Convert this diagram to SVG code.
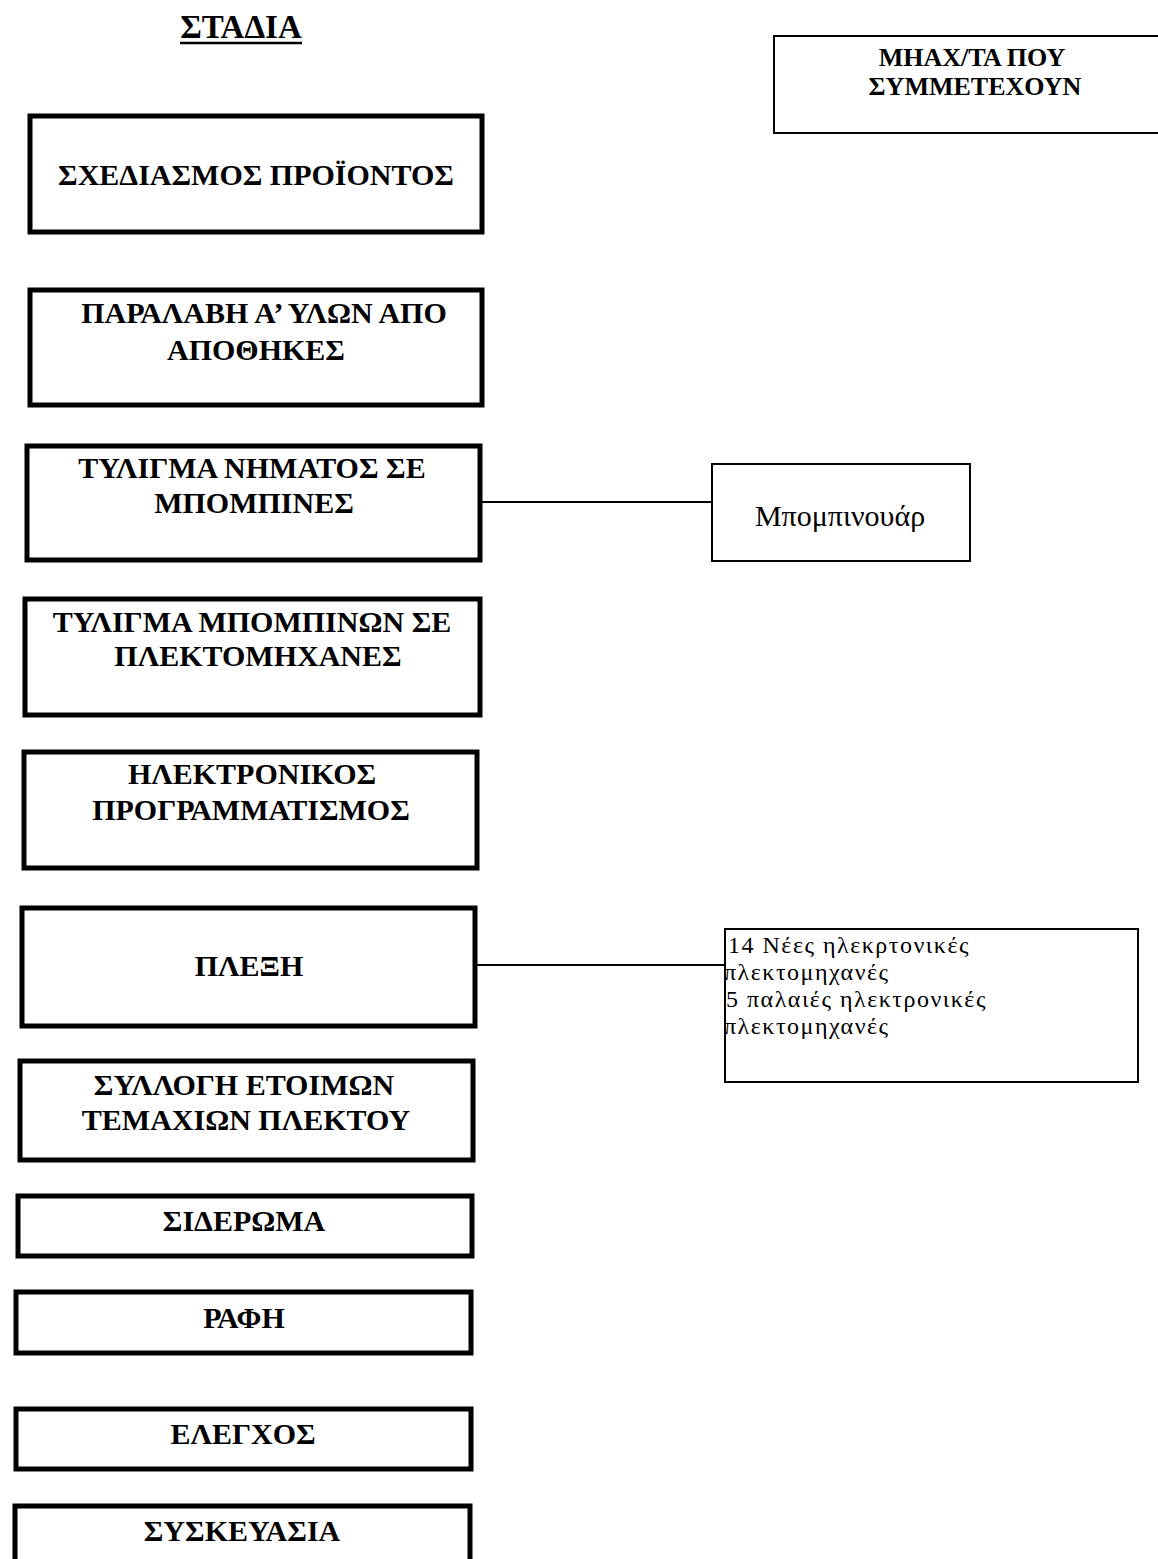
<svg xmlns="http://www.w3.org/2000/svg" width="1158" height="1559" viewBox="0 0 1158 1559">
<style>
.stage{fill:#fff;stroke:#000;stroke-width:5}
.mach{fill:#fff;stroke:#000;stroke-width:2}
.t{font-family:"Liberation Serif","Times New Roman",serif;font-weight:bold;font-size:30px;fill:#000;text-anchor:middle}
.tt{font-family:"Liberation Serif","Times New Roman",serif;font-weight:bold;font-size:33px;fill:#000;text-anchor:middle}
.th{font-family:"Liberation Serif","Times New Roman",serif;font-weight:bold;font-size:26px;fill:#000;text-anchor:middle}
.r{font-family:"Liberation Serif","Times New Roman",serif;font-size:24px;letter-spacing:1.5px;fill:#000}
.rb{font-family:"Liberation Serif","Times New Roman",serif;font-size:30px;fill:#000;text-anchor:middle}
.conn{stroke:#000;stroke-width:2;fill:none}
</style>
<rect width="1158" height="1559" fill="#fff"/>
<g id="title">
<text class="tt" x="241" y="38">ΣΤΑΔΙΑ</text>
<line x1="180" y1="43" x2="302" y2="43" stroke="#000" stroke-width="2.5"/>
</g>
<g id="machines-header">
<rect class="mach" x="774" y="36" width="390" height="97"/>
<text class="th" x="972" y="66">ΜΗΑΧ/ΤΑ ΠΟΥ</text>
<text class="th" x="975" y="95">ΣΥΜΜΕΤΕΧΟΥΝ</text>
</g>
<g id="connectors">
<line class="conn" x1="480" y1="502" x2="712" y2="502"/>
<line class="conn" x1="475" y1="965" x2="725" y2="965"/>
</g>
<g id="n1">
<rect class="stage" x="30" y="116" width="452" height="116"/>
<text class="t" x="256" y="185">ΣΧΕΔΙΑΣΜΟΣ ΠΡΟΪΟΝΤΟΣ</text>
</g>
<g id="n2">
<rect class="stage" x="30" y="290" width="452" height="115"/>
<text class="t" x="264" y="323">ΠΑΡΑΛΑΒΗ Α’ ΥΛΩΝ ΑΠΟ</text>
<text class="t" x="256" y="360">ΑΠΟΘΗΚΕΣ</text>
</g>
<g id="n3">
<rect class="stage" x="27" y="446" width="453" height="114"/>
<text class="t" x="252" y="478">ΤΥΛΙΓΜΑ ΝΗΜΑΤΟΣ ΣΕ</text>
<text class="t" x="254" y="513">ΜΠΟΜΠΙΝΕΣ</text>
</g>
<g id="n4">
<rect class="stage" x="25" y="599" width="455" height="116"/>
<text class="t" x="252" y="632">ΤΥΛΙΓΜΑ ΜΠΟΜΠΙΝΩΝ ΣΕ</text>
<text class="t" x="258" y="666">ΠΛΕΚΤΟΜΗΧΑΝΕΣ</text>
</g>
<g id="n5">
<rect class="stage" x="24" y="752" width="453" height="116"/>
<text class="t" x="252" y="784">ΗΛΕΚΤΡΟΝΙΚΟΣ</text>
<text class="t" x="251" y="820">ΠΡΟΓΡΑΜΜΑΤΙΣΜΟΣ</text>
</g>
<g id="n6">
<rect class="stage" x="22" y="908" width="453" height="118"/>
<text class="t" x="249" y="976">ΠΛΕΞΗ</text>
</g>
<g id="n7">
<rect class="stage" x="20" y="1061" width="453" height="99"/>
<text class="t" x="244" y="1095">ΣΥΛΛΟΓΗ ΕΤΟΙΜΩΝ</text>
<text class="t" x="246" y="1130">ΤΕΜΑΧΙΩΝ ΠΛΕΚΤΟΥ</text>
</g>
<g id="n8">
<rect class="stage" x="18" y="1196" width="454" height="60"/>
<text class="t" x="244" y="1231">ΣΙΔΕΡΩΜΑ</text>
</g>
<g id="n9">
<rect class="stage" x="16" y="1292" width="455" height="61"/>
<text class="t" x="244" y="1328">ΡΑΦΗ</text>
</g>
<g id="n10">
<rect class="stage" x="16" y="1409" width="455" height="60"/>
<text class="t" x="243" y="1444">ΕΛΕΓΧΟΣ</text>
</g>
<g id="n11">
<rect class="stage" x="15" y="1506" width="455" height="70"/>
<text class="t" x="242" y="1541">ΣΥΣΚΕΥΑΣΙΑ</text>
</g>
<g id="m1">
<rect class="mach" x="712" y="464" width="258" height="97"/>
<text class="rb" x="840" y="526">Μπομπινουάρ</text>
</g>
<g id="m2">
<rect class="mach" x="725" y="929" width="413" height="153"/>
<text class="r" x="728" y="953">14 Νέες ηλεκρτονικές</text>
<text class="r" x="724" y="980">πλεκτομηχανές</text>
<text class="r" x="726" y="1007">5 παλαιές ηλεκτρονικές</text>
<text class="r" x="724" y="1034">πλεκτομηχανές</text>
</g>
</svg>
